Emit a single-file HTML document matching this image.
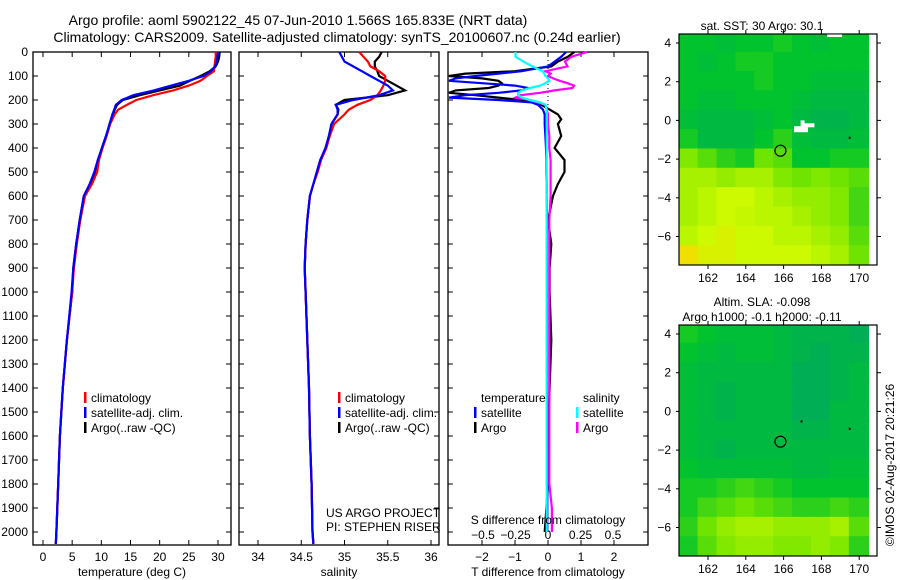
<!DOCTYPE html>
<html><head><meta charset="utf-8">
<style>
html,body{margin:0;padding:0;background:#fff;}
svg{display:block;font-family:"Liberation Sans",sans-serif;}
text{font-size:12px;fill:#000;}
</style></head>
<body>
<svg id="chart" width="900" height="580" viewBox="0 0 900 580" xmlns="http://www.w3.org/2000/svg">
<text x="298" y="25" text-anchor="middle" style="font-size:14px">Argo profile: aoml 5902122_45 07-Jun-2010 1.566S 165.833E (NRT data)</text>
<text x="337" y="42" text-anchor="middle" style="font-size:14px">Climatology: CARS2009. Satellite-adjusted climatology: synTS_20100607.nc (0.24d earlier)</text>
<g id="g"></g>
</svg>
<script>
// ---------- data ----------
const depths = [0,20,40,60,80,100,120,140,160,180,200,220,240,260,300,350,400,450,500,550,600,700,800,900,1000,1200,1400,1600,1800,2000,2050];
const tempArgo = [30.3,30.2,30.0,29.6,28.6,27,25.2,23.5,20,16.6,13.7,12.7,12.3,12,11.5,10.8,10.1,9.5,8.9,8.1,7,6.3,5.7,5.2,5.0,4.1,3.4,2.9,2.6,2.3,2.2];
const tempSat  = [30.0,29.9,29.8,29.5,28.8,27.5,25,22,19,15.5,13.5,12.5,12.2,11.9,11.4,10.8,10.1,9.4,8.8,8.0,7.0,6.3,5.7,5.2,4.9,4.1,3.4,2.9,2.6,2.3,2.2];
const tempClim = [29.6,29.6,29.5,29.4,29.3,28.1,27,25,22.3,18.9,16,14.4,12.9,12.3,11.5,10.9,10.2,9.6,9.3,8.4,7.2,6.4,5.8,5.3,5.0,4.1,3.4,2.9,2.6,2.3,2.2];
const salArgo = [35.43,35.4,35.35,35.35,35.38,35.4,35.5,35.6,35.7,35.5,35.0,34.9,34.93,34.92,34.85,34.82,34.78,34.72,34.68,34.64,34.6,34.57,34.55,34.54,34.55,34.57,34.59,34.6,34.62,34.63,34.64];
const salSat  = [34.94,34.97,35.0,35.1,35.2,35.3,35.4,35.5,35.56,35.4,35.1,34.9,34.92,34.92,34.85,34.82,34.78,34.72,34.68,34.64,34.6,34.57,34.55,34.54,34.55,34.57,34.59,34.6,34.62,34.63,34.64];
const salClim = [35.17,35.22,35.27,35.3,35.4,35.47,35.47,35.45,35.42,35.38,35.3,35.15,35.05,35.0,34.88,34.83,34.79,34.73,34.69,34.64,34.6,34.57,34.55,34.54,34.55,34.57,34.59,34.6,34.62,34.63,34.64];
const diffDepths = [0,20,40,60,80,90,100,110,120,130,140,150,160,170,180,190,200,210,220,240,260,280,300,350,400,450,500,550,600,700,800,900,1000,1200,1400,1600,1800,1900,2000];
const dTArgo = [0.8,0.6,0.3,0.1,-1.0,-2.5,-3,-2.0,-1.5,-1.4,-1.5,-1.8,-2.8,-3,-2.2,-1.5,-0.8,-0.4,-0.2,0.05,0.3,0.4,0.3,0.4,0.2,0.5,0.5,0.3,0.15,0.0,0.1,0.05,0.05,0.1,0.05,0.0,0.0,-0.05,-0.1];
const dTSat  = [0.55,0.4,0.2,0.0,-0.8,-1.5,-2.2,-2.8,-3,-2.0,-1.0,-0.6,-0.8,-1.5,-2.5,-3,-1.5,-0.5,-0.3,-0.15,-0.1,-0.1,-0.1,-0.08,-0.06,-0.05,-0.05,-0.04,-0.04,-0.03,-0.03,-0.03,-0.03,-0.03,-0.03,-0.03,-0.02,-0.02,-0.02];
const dSSat  = [-0.25,-0.25,-0.19,-0.12,-0.04,-0.03,-0.02,0.0,0.01,-0.02,-0.06,-0.14,-0.2,-0.23,-0.23,-0.2,-0.14,-0.06,-0.02,-0.01,-0.01,-0.01,-0.01,-0.01,-0.01,-0.01,-0.01,-0.01,-0.01,-0.01,-0.01,-0.01,-0.01,-0.01,-0.01,-0.01,-0.01,-0.01,-0.01];
const dSArgo = [0.3,0.18,0.13,0.15,-0.02,0.02,0.0,0.04,0.09,0.15,0.2,0.19,0.05,-0.06,-0.21,-0.25,-0.14,-0.08,-0.02,-0.01,0.0,0.0,0.0,0.01,0.01,0.02,0.02,0.02,0.02,0.01,0.01,0.01,0.01,0.01,0.01,0.01,0.01,0.03,0.03];
const depthTicks = [0,100,200,300,400,500,600,700,800,900,1000,1100,1200,1300,1400,1500,1600,1700,1800,1900,2000];
const tempTicks = [0,5,10,15,20,25,30];
const salTicks = [34,34.5,35,35.5,36];
const salTickLabels = ["34","34.5","35","35.5","36"];
const tDiffTicks = [-2,-1,0,1,2];
const sDiffTicks = [-0.5,-0.25,0,0.25,0.5];
const sDiffLabels = ["-0.5","-0.25","0","0.25","0.5"];
const lonTicks = [162,164,166,168,170];
const latTicks = [4,2,0,-2,-4,-6];
const gridLats = [4,3,2,1,0,-1,-2,-3,-4,-5,-6,-7];
const gridLons = [161,162,163,164,165,166,167,168,169,170];
const sstGrid = [
[0.3,0.3,0.25,0.3,0.3,0.35,0.3,0.25,0.3,0.3],
[0.3,0.25,0.3,0.35,0.35,0.3,0.3,0.3,0.3,0.3],
[0.3,0.3,0.3,0.3,0.35,0.3,0.3,0.25,0.25,0.25],
[0.3,0.25,0.25,0.3,0.3,0.3,0.25,0.2,0.2,0.2],
[0.25,0.2,0.2,0.2,0.25,0.3,0.2,0.15,0.15,0.2],
[0.35,0.2,0.2,0.2,0.3,0.4,0.25,0.2,0.2,0.25],
[0.6,0.5,0.4,0.35,0.55,0.5,0.3,0.3,0.35,0.35],
[0.7,0.7,0.65,0.7,0.7,0.6,0.55,0.6,0.55,0.5],
[0.7,0.75,0.8,0.8,0.75,0.7,0.65,0.65,0.6,0.45],
[0.7,0.75,0.8,0.78,0.75,0.75,0.7,0.65,0.6,0.45],
[0.75,0.8,0.85,0.8,0.8,0.75,0.75,0.7,0.65,0.5],
[0.95,0.85,0.85,0.8,0.8,0.8,0.8,0.75,0.7,0.55]];
const slaGrid = [
[0.35,0.3,0.25,0.25,0.25,0.2,0.15,0.15,0.15,0.1],
[0.3,0.25,0.2,0.25,0.25,0.2,0.15,0.1,0.15,0.15],
[0.25,0.2,0.2,0.2,0.2,0.2,0.1,0.1,0.15,0.2],
[0.25,0.2,0.15,0.2,0.2,0.2,0.1,0.1,0.15,0.2],
[0.25,0.2,0.15,0.2,0.2,0.2,0.1,0.1,0.2,0.2],
[0.25,0.2,0.2,0.2,0.2,0.2,0.15,0.15,0.2,0.2],
[0.25,0.2,0.15,0.2,0.2,0.2,0.2,0.2,0.2,0.2],
[0.3,0.25,0.25,0.25,0.25,0.25,0.2,0.2,0.25,0.25],
[0.35,0.35,0.4,0.45,0.4,0.35,0.3,0.3,0.3,0.3],
[0.35,0.45,0.5,0.55,0.5,0.45,0.4,0.4,0.45,0.4],
[0.4,0.55,0.65,0.7,0.7,0.65,0.65,0.65,0.7,0.5],
[0.35,0.5,0.6,0.65,0.65,0.6,0.6,0.65,0.6,0.4]];
const argoLon = 165.833, argoLat = -1.566;

// ---------- helpers ----------
const NS="http://www.w3.org/2000/svg";
const g=document.getElementById('g');
function mk(tag,attrs,parent){const e=document.createElementNS(NS,tag);for(const k in attrs)e.setAttribute(k,attrs[k]);(parent||g).appendChild(e);return e;}
function txt(s,x,y,anchor,parent){const e=mk('text',{x:x,y:y,'text-anchor':anchor||'start'},parent);e.textContent=s;return e;}
const TOP=52,BOT=545;
const yD=d=>TOP+d*0.24;
const xT=t=>43+t*5.833;
const xS=s=>258+(s-34)*86.5;
const xDT=t=>548+t*33;
const xDS=s=>548+s*130;

function frame(x0,x1,name){
  const r=mk('rect',{x:x0,y:TOP,width:x1-x0,height:BOT-TOP,fill:'none',stroke:'#000','stroke-width':1.3});
  
  
  depthTicks.forEach(d=>{
    mk('line',{x1:x0,x2:x0+5,y1:yD(d),y2:yD(d),stroke:'#000'});
    mk('line',{x1:x1,x2:x1-5,y1:yD(d),y2:yD(d),stroke:'#000'});
  });
}
function series(xs,ds,xf,x0,x1,color,name){
  const pts=xs.map((v,i)=>Math.max(x0+1,Math.min(x1-1,xf(v))).toFixed(1)+','+yD(ds[i]).toFixed(1)).join(' ');
  const p=mk('polyline',{points:pts,fill:'none',stroke:color,'stroke-width':2.2});
  
  
}
function legend(items,x,y0){
  items.forEach((it,i)=>{
    const y=y0+i*15;
    if(it[1]){const b=mk('rect',{x:x,y:y-10,width:2.5,height:11,fill:it[1]});
      
      }
    const t=txt(it[0],x+7,y);
    
    
  });
}

// ---------- panel 1: temperature ----------
frame(33,231,'temperature-panel');
depthTicks.forEach(d=>{const t=txt(String(d),28,yD(d)+4,'end');
  
  });
tempTicks.forEach(v=>{mk('line',{x1:xT(v),x2:xT(v),y1:BOT,y2:BOT-5,stroke:'#000'});mk('line',{x1:xT(v),x2:xT(v),y1:TOP,y2:TOP+5,stroke:'#000'});
  const t=txt(String(v),xT(v),561,'middle');
  
  });
series(tempArgo,depths,xT,33,231,'#000','temp-argo-line');
series(tempClim,depths,xT,33,231,'#f00','temp-climatology-line');
series(tempSat,depths,xT,33,231,'#00f','temp-satellite-line');
let at=txt('temperature (deg C)',132,576,'middle');


legend([['climatology','#f00'],['satellite-adj. clim.','#00f'],['Argo(..raw -QC)','#000']],84,402);

// ---------- panel 2: salinity ----------
frame(239,439,'salinity-panel');
salTicks.forEach((v,i)=>{mk('line',{x1:xS(v),x2:xS(v),y1:BOT,y2:BOT-5,stroke:'#000'});mk('line',{x1:xS(v),x2:xS(v),y1:TOP,y2:TOP+5,stroke:'#000'});
  const t=txt(salTickLabels[i],xS(v),561,'middle');
  
  });
series(salArgo,depths,xS,239,439,'#000','sal-argo-line');
series(salClim,depths,xS,239,439,'#f00','sal-climatology-line');
series(salSat,depths,xS,239,439,'#00f','sal-satellite-line');
at=txt('salinity',339,576,'middle');


legend([['climatology','#f00'],['satellite-adj. clim.','#00f'],['Argo(..raw -QC)','#000']],338,402);
let c1=txt('US ARGO PROJECT',326,517);


let c2=txt('PI: STEPHEN RISER',326,531);



// ---------- panel 3: differences ----------
frame(448,648,'difference-panel');
mk('line',{x1:548,x2:548,y1:TOP,y2:yD(260),stroke:'#000','stroke-dasharray':'1,3'});
tDiffTicks.forEach(v=>{mk('line',{x1:xDT(v),x2:xDT(v),y1:BOT,y2:BOT-5,stroke:'#000'});mk('line',{x1:xDT(v),x2:xDT(v),y1:TOP,y2:TOP+5,stroke:'#000'});
  const t=txt(String(v).replace('-','\u2212'),xDT(v),561,'middle');
  
  });
sDiffTicks.forEach((v,i)=>{const t=txt(sDiffLabels[i].replace('-','\u2212'),xDS(v),539,'middle');
  
  });
series(dTArgo,diffDepths,xDT,448,648,'#000','t-diff-argo-line');
series(dTSat,diffDepths,xDT,448,648,'#00f','t-diff-satellite-line');
series(dSArgo,diffDepths,xDS,448,648,'#f0f','s-diff-argo-line');
series(dSSat,diffDepths,xDS,448,648,'#0ff','s-diff-satellite-line');
at=txt('S difference from climatology',548,524,'middle');


at=txt('T difference from climatology',548,576,'middle');


legend([['temperature',null],['satellite','#00f'],['Argo','#000']],474,402);
legend([['salinity',null],['satellite','#0ff'],['Argo','#f0f']],576,402);

// ---------- maps ----------
function colorOf(v){
  const stops=[[0,[0,165,105]],[0.3,[0,195,45]],[0.55,[110,228,0]],[0.8,[205,250,0]],[1,[250,215,0]]];
  for(let i=1;i<stops.length;i++){if(v<=stops[i][0]){const a=stops[i-1],b=stops[i];const f=(v-a[0])/(b[0]-a[0]);
    return 'rgb('+a[1].map((c,k)=>Math.round(c+(b[1][k]-c)*f)).join(',')+')';}}
  return 'rgb(250,215,0)';
}
function map(top,bottom,grid,name,titleLines){
  const L=679,R=877;
  const lonX=lo=>708+(lo-162)*18.9;
  const latY=la=>top+9+(4-la)*19.35;
  const grp=mk('g',{});
  
  
  mk('clipPath',{id:'clip'+name},grp);
  mk('rect',{x:L,y:top,width:R-L,height:bottom-top},grp.lastChild);
  const cg=mk('g',{'clip-path':'url(#clip'+name+')'},grp);
  grid.forEach((row,i)=>row.forEach((v,j)=>{
    const x0=lonX(gridLons[j]-0.55),y0=latY(gridLats[i]+0.55);
    const c=mk('rect',{x:x0,y:y0,width:lonX(gridLons[j]+0.5)-x0+0.5,height:latY(gridLats[i]-0.5)-y0+0.5,fill:colorOf(v)},cg);
    
    
  }));
  mk('rect',{x:L,y:top,width:R-L,height:bottom-top,fill:'none',stroke:'#000','stroke-width':1.2},grp);
  lonTicks.forEach(v=>{mk('line',{x1:lonX(v),x2:lonX(v),y1:bottom,y2:bottom+4,stroke:'#000'},grp);mk('line',{x1:lonX(v),x2:lonX(v),y1:top,y2:top-4,stroke:'#000'},grp);
    const t=txt(String(v),lonX(v),bottom+17,'middle',grp);
    
    });
  latTicks.forEach(v=>{mk('line',{x1:L,x2:L-3,y1:latY(v),y2:latY(v),stroke:'#000'},grp);mk('line',{x1:R,x2:R+4,y1:latY(v),y2:latY(v),stroke:'#000'},grp);
    const t=txt(String(v).replace('-','\u2212'),L-8,latY(v)+4,'end',grp);
    
    });
  titleLines.forEach((s,i)=>{const t=txt(s,762,top-titleLines.length*15+11+i*15,'middle',grp);
    
    });
  const m=mk('circle',{cx:lonX(argoLon),cy:latY(argoLat),r:5.5,fill:'none',stroke:'#000','stroke-width':1.2},grp);
  
  
  mk('rect',{x:lonX(166.95)-1,y:latY(-0.52)-1,width:2,height:2,fill:'#000'},grp);
  mk('rect',{x:lonX(169.5)-1,y:latY(-0.9)-1,width:2,height:2,fill:'#000'},grp);
  return {lonX,latY,grp};
}
const m1=map(34,265,sstGrid,'sst-map',['sat. SST: 30 Argo: 30.1']);
mk('rect',{x:m1.lonX(166.55),y:m1.latY(-0.3),width:14,height:6,fill:'#fff'},m1.grp);
mk('rect',{x:m1.lonX(166.9),y:m1.latY(0),width:4,height:6,fill:'#fff'},m1.grp);
mk('rect',{x:m1.lonX(167.1),y:m1.latY(-0.15),width:10,height:4,fill:'#fff'},m1.grp);
mk('rect',{x:m1.lonX(168.3),y:34.5,width:15,height:2.5,fill:'#fff'},m1.grp);
map(325,556,slaGrid,'sla-map',['Altim. SLA: -0.098','Argo h1000: -0.1 h2000: -0.11']);

const stamp=mk('text',{x:0,y:0,transform:'translate(894,465) rotate(-90)','text-anchor':'middle'});
stamp.textContent='\u00A9IMOS 02-Aug-2017 20:21:26';


</script>
</body></html>
